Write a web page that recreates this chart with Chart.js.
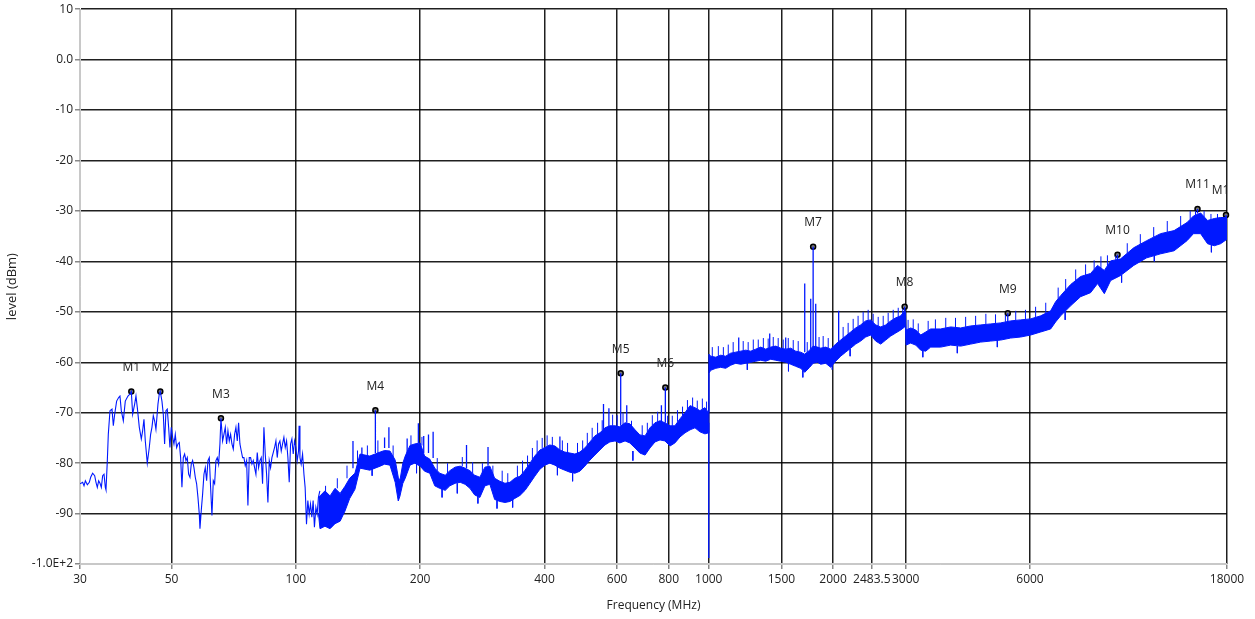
<!DOCTYPE html>
<html>
<head>
<meta charset="utf-8">
<title>Spectrum scan</title>
<script src="https://cdn.jsdelivr.net/npm/chart.js@4.4.1/dist/chart.umd.min.js"></script>
<style>
  html, body { margin: 0; padding: 0; background: #fff; }
  canvas { display: block; }
</style>
</head>
<body>
<canvas id="scan" width="1255" height="619"></canvas>
<script>
// Axis ticks
const xTickValues = [30, 50, 100, 200, 400, 600, 800, 1000, 1500, 2000, 2483.5, 3000, 6000, 18000];
const xTickLabels = ['30', '50', '100', '200', '400', '600', '800', '1000', '1500', '2000', '2483.5', '3000', '6000', '18000'];
const yTickValues = [-100, -90, -80, -70, -60, -50, -40, -30, -20, -10, 0, 10];
const yTickLabels = ['-1.0E+2', '-90', '-80', '-70', '-60', '-50', '-40', '-30', '-20', '-10', '0.0', '10'];

// Low band trace, 30 - 114 MHz (thin line)
const lowFreq = [
  30.00, 30.45, 30.68, 30.91, 31.25, 31.60, 31.84, 32.19, 32.56, 32.80,
  33.04, 33.29, 33.54, 33.79, 34.04, 34.30, 34.55, 34.68, 34.94, 35.13,
  35.46, 35.86, 36.13, 36.40, 36.80, 37.22, 37.49, 37.77, 38.20, 38.62,
  39.20, 39.64, 39.94, 40.24, 40.69, 40.99, 41.30, 41.76, 42.23, 42.54,
  42.86, 43.18, 43.66, 44.15, 44.48, 44.81, 45.15, 45.48, 45.82, 46.34,
  46.68, 46.94, 47.38, 47.74, 48.09, 48.45, 48.81, 49.18, 49.54, 49.91,
  50.29, 50.66, 51.04, 51.42, 51.80, 52.19, 52.58, 52.97, 53.37, 53.77,
  54.17, 54.57, 54.98, 55.39, 55.80, 56.22, 56.64, 57.06, 57.49, 57.92,
  58.35, 58.57, 59.00, 59.45, 59.89, 60.33, 60.79, 61.24, 61.70, 62.15,
  62.62, 63.09, 63.56, 64.03, 64.51, 64.99, 65.47, 65.84, 66.46, 66.95,
  67.45, 67.95, 68.46, 68.97, 69.49, 70.00, 70.53, 71.05, 71.58, 72.12,
  72.65, 73.20, 73.74, 74.29, 74.85, 75.40, 75.97, 76.53, 77.10, 77.68,
  78.26, 78.84, 79.43, 80.02, 80.62, 81.22, 81.83, 82.44, 83.05, 83.67,
  84.30, 84.93, 85.56, 86.20, 86.84, 87.49, 88.14, 88.80, 89.46, 90.13,
  90.80, 91.48, 92.16, 92.84, 93.54, 94.24, 94.94, 95.65, 96.36, 97.08,
  97.80, 98.53, 99.27, 100.0, 100.75, 101.5, 101.8, 102.3, 103.0, 103.8,
  104.6, 105.3, 106.1, 106.9, 107.7, 108.5, 109.3, 110.1, 110.9, 111.8,
  112.6, 113.4, 114.3
];
const lowLevel = [
  -84.1, -83.8, -84.5, -83.5, -84.3, -83.8, -82.8, -82.0, -82.5, -83.8,
  -84.8, -83.5, -84.0, -84.8, -82.5, -82.2, -84.8, -85.3, -79.5, -74.3,
  -69.6, -69.3, -72.6, -70.3, -67.7, -67.0, -66.7, -69.6, -71.6, -67.7,
  -66.7, -66.3, -65.8, -70.3, -68.3, -66.7, -69.0, -72.9, -75.2, -73.6,
  -71.3, -75.6, -80.0, -76.9, -74.3, -72.9, -70.6, -71.6, -73.3, -68.3,
  -66.3, -65.8, -67.7, -70.3, -76.2, -69.6, -69.3, -72.9, -76.9, -72.9,
  -74.9, -76.2, -74.3, -76.9, -76.2, -75.9, -78.9, -84.8, -78.9, -78.2,
  -79.5, -78.9, -82.2, -82.8, -80.2, -79.5, -80.9, -82.8, -84.1, -86.8,
  -90.1, -93.0, -89.4, -86.1, -82.2, -80.9, -83.5, -79.5, -78.9, -84.8,
  -90.4, -83.5, -84.1, -79.5, -78.9, -80.2, -76.2, -71.1, -75.6, -74.3,
  -72.9, -76.2, -73.6, -75.6, -74.3, -76.2, -77.2, -74.3, -72.9, -75.6,
  -72.0, -76.2, -77.6, -78.9, -78.9, -80.5, -79.5, -88.4, -78.9, -78.9,
  -80.2, -79.5, -80.9, -82.2, -77.9, -80.9, -79.5, -78.9, -84.1, -72.9,
  -78.2, -82.2, -87.8, -79.5, -80.9, -78.9, -77.9, -76.9, -75.6, -78.9,
  -76.2, -75.6, -77.6, -76.2, -74.9, -76.9, -75.6, -78.9, -83.8, -76.2,
  -75.2, -78.2, -75.6, -76.9, -79.5, -77.6, -72.6, -78.9, -80.2, -78.2,
  -82.2, -84.8, -92.1, -87.4, -90.1, -88.1, -90.7, -87.4, -92.7, -88.8,
  -90.1, -86.8, -85.5
];

// Noise band above 113 MHz: upper and lower edge of the trace
const bandFreq = [
  113.4, 114.4, 117.6, 121, 124.4, 128, 131.5, 135, 139, 143,
  147, 151, 160, 164, 169, 174, 177, 178.6, 181.6, 184,
  189, 194, 200, 205, 211, 217, 223, 230, 236, 243,
  250, 257, 264, 271, 279, 287, 295, 303, 312, 321,
  330, 339, 349, 359, 369, 379, 390, 401, 412, 424,
  436, 448, 461, 474, 487.5, 501, 515.5, 530, 545, 560.5,
  576, 593, 609, 627, 644, 663, 681, 701, 720.5, 741,
  762, 783, 806, 828, 852, 876, 901, 926, 952, 979,
  999, 1001, 1011, 1040, 1069, 1099, 1130, 1162, 1195, 1229,
  1264, 1300, 1336, 1374, 1413, 1453, 1494, 1536, 1580, 1624,
  1670, 1708, 1756, 1790, 1835, 1867, 1920, 1974, 2030, 2087,
  2146, 2207, 2269, 2333, 2399, 2468, 2537, 2609, 2683, 2759,
  2837, 2917, 2982, 2995, 3005, 3084, 3172, 3262, 3353, 3448,
  3645, 3855, 4076, 4309, 4556, 4817, 5093, 5385, 5693, 6021,
  6367, 6732, 6921, 7117, 7525, 7956, 8412, 8745, 9082, 9406,
  9945, 10700, 11500, 12427, 13400, 14400, 14930, 15537, 16150, 16770,
  17368, 18000
];
const bandTop = [
  -86.8, -86.5, -85.5, -86.5, -85.0, -86.0, -84.6, -83.0, -82.0, -78.2,
  -78.4, -78.6, -77.8, -77.5, -77.6, -79.4, -82.8, -83.5, -80.0, -78.6,
  -76.5, -76.2, -76.0, -78.6, -79.2, -81.0, -82.0, -82.4, -81.5, -80.8,
  -80.6, -81.0, -81.5, -82.4, -82.8, -80.8, -80.6, -83.0, -83.6, -84.0,
  -83.8, -83.0, -82.6, -81.4, -80.0, -78.6, -77.4, -76.9, -76.4, -76.6,
  -77.4, -77.8, -78.0, -78.2, -77.8, -77.0, -75.8, -74.6, -74.0, -73.0,
  -72.6, -72.6, -72.8, -72.0, -72.2, -73.4, -74.4, -74.6, -73.0, -72.0,
  -71.6, -72.0, -72.6, -72.6, -71.2, -70.0, -68.6, -69.0, -69.6, -69.0,
  -70.0, -58.4, -58.8, -59.0, -58.6, -58.8, -58.2, -58.0, -57.8, -57.6,
  -57.8, -57.4, -57.0, -57.4, -57.0, -56.8, -57.2, -57.4, -57.2, -57.8,
  -58.0, -58.4, -57.6, -56.8, -57.0, -57.2, -57.0, -57.4, -56.4, -55.6,
  -54.8, -54.0, -53.2, -52.6, -51.8, -51.6, -52.6, -53.0, -52.6, -51.8,
  -51.2, -50.8, -49.8, -50.0, -53.6, -53.2, -53.6, -54.6, -54.0, -53.4,
  -53.4, -53.0, -53.2, -52.8, -52.6, -52.4, -52.2, -51.8, -51.6, -51.4,
  -50.8, -49.8, -48.0, -46.8, -44.6, -43.0, -42.4, -40.8, -41.8, -39.9,
  -39.5, -37.3, -35.9, -34.5, -33.9, -32.3, -31.0, -30.4, -31.9, -31.5,
  -31.3, -31.3
];
const bandBottom = [
  -90.0, -93.0, -92.5, -93.0, -92.0, -91.5, -89.5, -87.0, -85.2, -81.0,
  -81.2, -81.4, -80.6, -80.2, -80.4, -83.8, -87.5, -86.6, -84.0, -83.0,
  -80.4, -80.0, -80.6, -81.6, -82.0, -84.5, -85.0, -85.4, -84.5, -84.0,
  -83.8, -84.2, -85.0, -86.3, -86.8, -84.5, -84.2, -87.2, -87.6, -87.8,
  -87.6, -87.0, -86.4, -85.4, -84.0, -82.6, -81.2, -80.4, -80.0, -80.4,
  -81.0, -81.4, -81.8, -82.0, -81.6, -80.6, -79.4, -78.4, -77.4, -76.4,
  -75.8, -75.6, -76.0, -75.6, -76.0, -77.0, -78.0, -78.4, -77.0, -75.8,
  -75.4, -75.6, -76.6, -76.0, -74.8, -74.0, -73.4, -73.0, -73.8, -74.2,
  -74.0, -62.2, -61.6, -61.2, -61.0, -61.2, -60.6, -60.2, -60.4, -60.2,
  -60.0, -59.8, -59.6, -59.8, -59.4, -59.6, -59.8, -60.0, -60.4, -60.8,
  -61.2, -62.0, -61.0, -60.2, -60.0, -60.4, -60.2, -61.0, -59.8, -58.8,
  -58.0, -57.2, -56.4, -55.8, -55.0, -54.6, -55.8, -56.4, -55.6, -54.8,
  -54.2, -53.6, -53.0, -53.0, -56.6, -56.2, -56.6, -57.6, -57.8, -57.0,
  -57.0, -56.6, -56.8, -56.4, -56.0, -55.8, -55.6, -55.2, -55.0, -54.6,
  -54.0, -53.4, -52.0, -50.8, -48.8, -47.0, -46.2, -44.4, -46.4, -43.8,
  -42.8, -40.8, -39.3, -38.5, -37.9, -35.9, -34.5, -34.5, -36.5, -36.9,
  -36.5, -35.6
];

// Narrow spurs standing out of the band
const spikeFreq = [137.5, 144.5, 155.8, 164, 168, 186, 198, 204, 209.5, 215, 259, 292, 436, 556, 573, 612, 633, 768, 785, 1000,
  1182, 1405, 1536, 1708, 1766, 1790, 1816, 1990, 2064, 2982, 5300, 9775, 15270, 17900];
const spikeBase = [-81, -79, -78, -77, -77, -78, -76, -78, -78, -79, -81, -80.5, -77.4, -73.5, -73, -72.6, -72, -72, -72, -72,
  -58, -57, -57.4, -58, -57.4, -57, -57, -60, -56, -50, -52, -40, -30.5, -31.5];
const spikePeak = [-75.6, -76.9, -69.5, -74.9, -72.9, -75.1, -72.1, -74.6, -74.3, -73.8, -76.4, -76.8, -74.7, -68.3, -69.1, -62.2, -68.5, -68.5, -65.0, -98.8,
  -55.1, -54.3, -55.1, -44.4, -47.4, -37.1, -48.4, -61.5, -49.8, -49.0, -50.3, -38.7, -29.6, -30.8];

// Small noise peaks on the upper edge of the band
const rippleUpFreq = [118, 126, 133, 141, 149, 158, 172, 190, 202, 220, 233, 253, 268, 283, 300, 316, 326, 344, 354, 364,
  374, 384, 395, 406, 418, 442, 455, 481, 495, 508, 522, 538, 552, 585, 600, 620, 650, 690, 710, 730,
  752, 795, 816, 840, 864, 888, 914, 938, 965, 988, 1020, 1055, 1085, 1115, 1146, 1212, 1246, 1282, 1318, 1356,
  1393, 1433, 1473, 1515, 1558, 1602, 1647, 1732, 1850, 1893, 1947, 2116, 2176, 2238, 2300, 2366, 2433, 2502, 2573, 2646,
  2720, 2798, 2877, 2950, 3040, 3128, 3217, 3400, 3540, 3750, 3960, 4190, 4430, 4690, 4950, 5230, 5540, 5850, 6190, 6550,
  7020, 7320, 7740, 8180, 8580, 8910, 9240, 9680, 10320, 11100, 11960, 12900, 13900, 14660, 15100, 15840, 16460, 17070];
const rippleUpFrom = [-86, -85, -83, -80, -78.5, -78, -79, -76.5, -76.5, -81.5, -82, -80.6, -82, -82, -82.5, -83.8, -84, -82.8, -82, -80.6,
  -79.5, -78, -77, -76.6, -76.5, -77.6, -78, -78, -77.5, -76.4, -75.2, -74.3, -73.5, -72.6, -72.7, -72.4, -73.6, -74.5, -73.8, -72.5,
  -71.8, -72.4, -72.6, -71.8, -70.6, -69.3, -68.8, -69.3, -69.3, -69.5, -58.8, -58.8, -58.7, -58.5, -58.1, -57.7, -57.7, -57.6, -57.2, -57.2,
  -57.2, -56.9, -57, -57.3, -57.3, -57.5, -57.9, -58, -57.1, -57.1, -57.2, -55.2, -54.4, -53.6, -52.9, -52.2, -51.7, -52.1, -52.8, -52.8,
  -52.2, -51.5, -51, -50.3, -53.4, -53.4, -54.1, -53.7, -53.4, -53.2, -53.1, -53, -52.7, -52.5, -52.3, -52, -51.7, -51.5, -51.1, -50.3,
  -47.4, -45.7, -43.8, -42.7, -41.6, -41.3, -40.8, -39.7, -38.4, -36.6, -35.2, -34.2, -33.1, -31.6, -30.8, -31.2, -31.7, -31.4];
const rippleUpTo = [-84.5, -83, -80.5, -77.5, -76.5, -75.5, -76.5, -74.5, -74.8, -79, -80, -78.8, -79.8, -80, -80.5, -81.5, -82, -80.5, -79.5, -78.5,
  -77, -75.5, -75, -74.5, -74.8, -75.5, -76, -76, -75.5, -74, -73, -72, -71.5, -70.4, -70.5, -70, -71.6, -72.5, -72, -70.5,
  -69.8, -70.6, -70.6, -69.5, -68.8, -67.5, -67, -67.6, -67.2, -67.8, -57, -56.8, -57, -56.5, -56, -55.8, -56, -55.5, -55.5, -55.2,
  -55.3, -55, -55.2, -55.5, -55.2, -55.6, -55.8, -56, -55, -54.8, -55.2, -53, -52.2, -51.4, -50.8, -50, -49.6, -50.4, -51, -50.8,
  -50.2, -49.6, -49.2, -49.4, -51.6, -51.5, -52.3, -51.8, -51.5, -51.2, -51.2, -51, -50.8, -50.4, -50.5, -50.6, -49.8, -49.6, -49, -48.2,
  -45.2, -43.5, -41.6, -40.6, -39.8, -39, -38.8, -38.9, -36.4, -34.6, -33.2, -32, -31, -30, -30, -30, -30.6, -30.6];

// Small noise dips on the lower edge of the band
const rippleDownFreq = [153, 196, 226, 246, 276, 307, 335, 430, 468, 655, 1240, 1560, 1690, 2200, 3300, 4000, 5000, 7300, 10000, 12000, 16500];
const rippleDownFrom = [-81, -80, -85, -84, -86.5, -87.4, -87, -80.6, -82, -77.6, -60.1, -60.2, -61.6, -57.3, -57.7, -56.8, -55.7, -49.8, -42.7, -38.5, -36.7];
const rippleDownTo = [-82.5, -82, -86.8, -86, -88, -89, -88.8, -82.4, -83.6, -79.5, -61.5, -61.8, -63, -58.8, -59, -58.2, -57, -51.6, -44.2, -40, -38.2];

// Markers
const markerNames = ['M1', 'M2', 'M3', 'M4', 'M5', 'M6', 'M7', 'M8', 'M9', 'M10', 'M11', 'M12'];
const markerFreq = [39.94, 46.94, 65.84, 155.8, 612, 785, 1790, 2982, 5300, 9775, 15270, 17900];
const markerLevel = [-65.8, -65.8, -71.1, -69.5, -62.2, -65.0, -37.1, -49.0, -50.3, -38.7, -29.6, -30.8];

const traceColor = 'rgb(0, 24, 255)';
const fontFamily = "'Open Sans', 'Noto Sans', sans-serif";

function pairs(xs, ys) {
    return xs.map((x, i) => ({ x: x, y: ys[i] }));
}

// Vertical strokes, one per frequency, separated by gaps
function segments(freqs, from, to) {
    const pts = [];
    freqs.forEach((f, i) => {
        pts.push({ x: f, y: from[i] });
        pts.push({ x: f, y: to[i] });
        pts.push({ x: f, y: null });
    });
    return pts;
}

function strokeSet(label, data, width) {
    return {
        label: label,
        data: data,
        borderColor: traceColor,
        borderWidth: width,
        pointRadius: 0,
        spanGaps: false,
        fill: false
    };
}

// Marker names above the dots, clipped near the plot area like the original
const markerLabelPlugin = {
    id: 'markerLabels',
    afterDatasetsDraw(chart) {
        const meta = chart.getDatasetMeta(chart.data.datasets.length - 1);
        const area = chart.chartArea;
        const ctx = chart.ctx;
        ctx.save();
        ctx.beginPath();
        ctx.rect(area.left, area.top, area.right - area.left + 3, area.bottom - area.top);
        ctx.clip();
        ctx.font = '12px ' + fontFamily;
        ctx.fillStyle = '#222';
        ctx.textAlign = 'center';
        ctx.textBaseline = 'middle';
        meta.data.forEach((pt, i) => {
            ctx.fillText(markerNames[i], pt.x - (i === markerNames.length - 1 ? 2 : 0), pt.y - 24);
        });
        ctx.restore();
    }
};

Chart.defaults.font.family = fontFamily;
Chart.defaults.font.size = 12;
Chart.defaults.color = '#222';

const gridDark = 'rgba(0, 0, 0, 0.88)';
const axisGray = '#c8c8c8';

new Chart(document.getElementById('scan').getContext('2d'), {
    type: 'line',
    data: {
        datasets: [
            {
                label: 'band top',
                data: pairs(bandFreq, bandTop),
                borderColor: traceColor,
                backgroundColor: traceColor,
                borderWidth: 1,
                pointRadius: 0,
                fill: '+1'
            },
            {
                label: 'band bottom',
                data: pairs(bandFreq, bandBottom),
                borderColor: traceColor,
                borderWidth: 1,
                pointRadius: 0,
                fill: false
            },
            {
                label: 'low trace',
                data: pairs(lowFreq, lowLevel),
                borderColor: traceColor,
                borderWidth: 1.1,
                pointRadius: 0,
                fill: false
            },
            strokeSet('ripple up', segments(rippleUpFreq, rippleUpFrom, rippleUpTo), 1),
            strokeSet('ripple down', segments(rippleDownFreq, rippleDownFrom, rippleDownTo), 1),
            strokeSet('spurs', segments(spikeFreq, spikeBase, spikePeak), 1.3),
            {
                label: 'markers',
                data: pairs(markerFreq, markerLevel),
                showLine: false,
                pointRadius: 2.5,
                pointBorderWidth: 1.5,
                pointBorderColor: '#000',
                pointBackgroundColor: '#777',
                clip: 4
            }
        ]
    },
    options: {
        responsive: false,
        devicePixelRatio: 1,
        animation: false,
        layout: { padding: { top: 8, right: 28, left: 0, bottom: 0 } },
        plugins: {
            legend: { display: false },
            tooltip: { enabled: false }
        },
        scales: {
            x: {
                type: 'logarithmic',
                min: 30,
                max: 18000,
                afterBuildTicks: (scale) => {
                    scale.ticks = xTickValues.map(v => ({ value: v }));
                },
                afterFit: (scale) => { scale.height = 55; },
                ticks: {
                    autoSkip: false,
                    maxRotation: 0,
                    minRotation: 0,
                    padding: 3,
                    color: '#222',
                    callback: (value, index) => xTickLabels[index]
                },
                grid: {
                    color: (c) => (c.tick && c.tick.value === 30) ? axisGray : gridDark,
                    lineWidth: 1.5,
                    tickColor: '#888',
                    tickLength: 5
                },
                border: { color: axisGray, width: 1 },
                title: {
                    display: true,
                    text: 'Frequency (MHz)',
                    color: '#222',
                    font: { size: 12 },
                    padding: { top: 0, bottom: 6 }
                }
            },
            y: {
                type: 'linear',
                min: -100,
                max: 10,
                afterBuildTicks: (scale) => {
                    scale.ticks = yTickValues.map(v => ({ value: v }));
                },
                afterFit: (scale) => { scale.width = 80; },
                ticks: {
                    padding: 2,
                    color: '#222',
                    callback: (value) => yTickLabels[yTickValues.indexOf(value)]
                },
                grid: {
                    color: (c) => (c.tick && c.tick.value === -100) ? axisGray : gridDark,
                    lineWidth: 1.5,
                    tickColor: '#888',
                    tickLength: 5
                },
                border: { color: axisGray, width: 1 },
                title: {
                    display: true,
                    text: 'level (dBm)',
                    color: '#222',
                    font: { size: 13 },
                    padding: { top: 4, bottom: 4 }
                }
            }
        }
    },
    plugins: [markerLabelPlugin]
});
</script>
</body>
</html>
